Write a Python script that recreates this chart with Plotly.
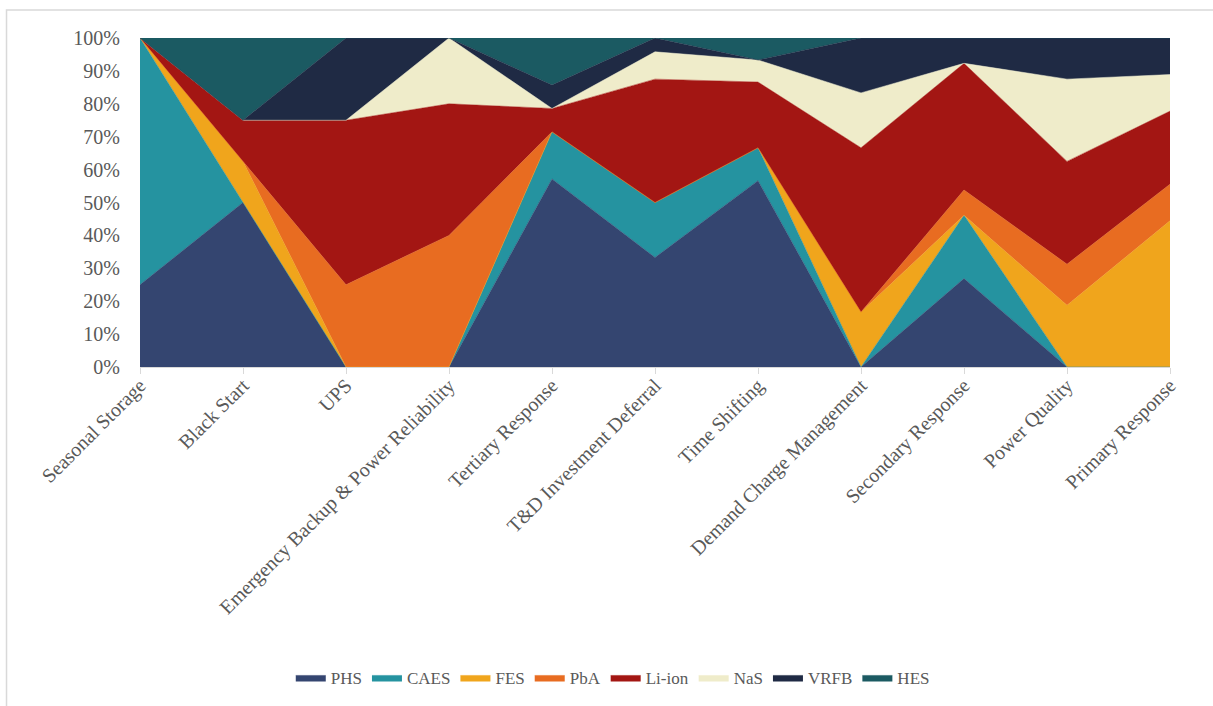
import plotly.graph_objects as go

categories = ["Seasonal Storage", "Black Start", "UPS", "Emergency Backup & Power Reliability",
              "Tertiary Response", "T&D Investment Deferral", "Time Shifting",
              "Demand Charge Management", "Secondary Response", "Power Quality", "Primary Response"]

PHS    = [25.0, 50.0, 0.0, 0.0, 57.1, 33.3, 56.7, 0.0, 26.9, 0.0, 0.0]
CAES   = [75.0, 0.0, 0.0, 0.0, 14.3, 16.7, 10.0, 0.0, 19.2, 0.0, 0.0]
FES    = [0.0, 12.5, 0.0, 0.0, 0.0, 0.0, 0.0, 16.7, 0.0, 18.75, 44.4]
PbA    = [0.0, 0.0, 25.0, 40.0, 0.0, 0.0, 0.0, 0.0, 7.7, 12.5, 11.1]
Li_ion = [0.0, 12.5, 50.0, 40.0, 7.1, 37.5, 20.0, 50.0, 38.5, 31.25, 22.2]
NaS    = [0.0, 0.0, 0.0, 20.0, 0.0, 8.3, 6.7, 16.7, 0.0, 25.0, 11.1]
VRFB   = [0.0, 0.0, 25.0, 0.0, 7.1, 4.2, 0.0, 16.7, 7.7, 12.5, 11.1]
HES    = [0.0, 25.0, 0.0, 0.0, 14.3, 0.0, 6.7, 0.0, 0.0, 0.0, 0.0]

series = [("PHS", PHS, "#344570"), ("CAES", CAES, "#2593a0"), ("FES", FES, "#f0a51c"),
          ("PbA", PbA, "#e86c21"), ("Li-ion", Li_ion, "#a31613"), ("NaS", NaS, "#efecca"),
          ("VRFB", VRFB, "#1f2a44"), ("HES", HES, "#1b5a62")]

fig = go.Figure()
for name, vals, col in series:
    fig.add_trace(go.Scatter(
        x=categories, y=vals, name=name, mode="lines",
        stackgroup="one", groupnorm="percent",
        line=dict(width=0.5, color=col), fillcolor=col,
        hoverinfo="x+y+name"))

font_family = "Liberation Serif, Times New Roman, serif"
fig.update_layout(
    width=1213, height=706,
    margin=dict(l=140, r=43, t=38, b=338),
    paper_bgcolor="white", plot_bgcolor="white",
    font=dict(family=font_family, color="#595959", size=20),
    showlegend=True,
    legend=dict(orientation="h", x=0.459, y=-0.939, xanchor="center", yanchor="middle",
                font=dict(size=17, color="#595959"), itemwidth=30, traceorder="normal"),
    xaxis=dict(type="category", tickangle=-45, showgrid=False, range=[0, 10],
               showline=True, linecolor="#d9d9d9", linewidth=1,
               ticks="outside", ticklen=6, tickcolor="#d9d9d9",
               tickfont=dict(size=20, color="#595959"), zeroline=False,
               ticklabelstandoff=-8),
    yaxis=dict(range=[0, 100], dtick=10, ticksuffix="%", showgrid=True,
               gridcolor="#d9d9d9", showline=False, zeroline=False,
               tickfont=dict(size=20, color="#595959"), ticklabelstandoff=19),
    shapes=[dict(type="rect", xref="paper", yref="paper",
                 x0=-0.1296, x1=1.06, y0=-1.05, y1=1.0848,
                 line=dict(color="#d9d9d9", width=1.5), fillcolor="rgba(0,0,0,0)", layer="below")],
)
fig.write_html("out.html")
